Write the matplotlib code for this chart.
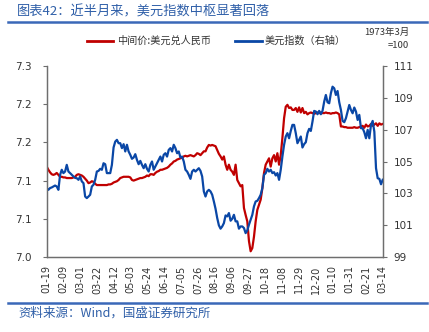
import matplotlib
matplotlib.use("Agg")
import matplotlib.pyplot as plt
import matplotlib.dates as mdates
import numpy as np
import pandas as pd

plt.rcParams['font.family'] = ['Noto Sans CJK SC', 'DejaVu Sans']

# ---------------- data ----------------
start_date = "2024-01-19"
end_date = "2025-03-14"
tick_dates = pd.date_range(start_date, periods=21, freq="21D")

cny_mid = [
    7.142, 7.137, 7.133, 7.130, 7.129, 7.130, 7.132, 7.129, 7.126, 7.126,
    7.125, 7.125, 7.124, 7.124, 7.124, 7.124, 7.125, 7.126, 7.129, 7.130,
    7.129, 7.128, 7.126, 7.123, 7.120, 7.116, 7.117, 7.119, 7.118, 7.115,
    7.113, 7.113, 7.113, 7.113, 7.113, 7.113, 7.113, 7.114, 7.114, 7.115,
    7.117, 7.118, 7.119, 7.121, 7.124, 7.125, 7.126, 7.126, 7.126, 7.126,
    7.125, 7.121, 7.120, 7.121, 7.122, 7.123, 7.124, 7.124, 7.125, 7.126,
    7.128, 7.127, 7.130, 7.130, 7.129, 7.132, 7.134, 7.135, 7.137, 7.137,
    7.138, 7.139, 7.140, 7.142, 7.145, 7.147, 7.150, 7.151, 7.153, 7.154,
    7.155, 7.156, 7.158, 7.159, 7.158, 7.159, 7.160, 7.159, 7.158, 7.160,
    7.163, 7.162, 7.160, 7.163, 7.166, 7.166, 7.172, 7.176, 7.175, 7.176,
    7.175, 7.174, 7.168, 7.162, 7.158, 7.153, 7.158, 7.145, 7.137, 7.145,
    7.137, 7.134, 7.129, 7.145, 7.121, 7.116, 7.111, 7.113, 7.077, 7.066,
    7.056, 7.025, 7.009, 7.014, 7.032, 7.056, 7.074, 7.082, 7.090, 7.108,
    7.132, 7.145, 7.150, 7.155, 7.142, 7.155, 7.160, 7.150, 7.163, 7.145,
    7.160, 7.187, 7.218, 7.236, 7.239, 7.234, 7.235, 7.231, 7.231, 7.234,
    7.228, 7.235, 7.227, 7.234, 7.226, 7.228, 7.224, 7.226, 7.227, 7.226,
    7.225, 7.226, 7.227, 7.226, 7.227, 7.226, 7.226, 7.227, 7.226, 7.226,
    7.225, 7.226, 7.226, 7.227, 7.226, 7.224, 7.205, 7.205, 7.204, 7.204,
    7.203, 7.203, 7.203, 7.203, 7.204, 7.203, 7.203, 7.204, 7.205, 7.206,
    7.203, 7.208, 7.205, 7.206, 7.209, 7.206, 7.208, 7.210, 7.206, 7.210,
    7.208, 7.209,
]

usd_index = [
    103.33, 103.22, 103.33, 103.37, 103.43, 103.49, 103.43, 103.22, 104.16, 104.48,
    104.27, 104.37, 104.79, 104.37, 104.27, 104.16, 104.06, 103.97, 103.95, 103.85,
    104.06, 103.75, 103.64, 102.80, 102.70, 102.80, 102.91, 103.43, 103.54, 103.85,
    104.37, 104.41, 104.54, 104.48, 104.89, 104.83, 104.27, 104.27, 104.27, 104.79,
    105.88, 106.25, 106.36, 106.15, 106.15, 105.84, 106.09, 105.63, 106.05, 105.63,
    105.42, 105.17, 105.25, 105.46, 105.10, 104.83, 105.04, 104.79, 104.58, 104.83,
    104.54, 104.37, 104.79, 105.00, 104.48, 104.69, 104.89, 105.10, 105.31, 105.00,
    105.42, 105.52, 105.31, 105.73, 105.84, 105.63, 106.05, 105.84, 105.52, 105.63,
    105.25, 105.31, 105.00, 104.48, 104.37, 104.16, 103.91, 104.37, 104.48, 104.37,
    104.48, 104.58, 104.41, 104.06, 103.12, 102.80, 103.12, 103.22, 103.12, 102.91,
    102.49, 102.03, 101.45, 100.99, 100.78, 100.92, 101.13, 101.61, 101.55, 101.76,
    101.28, 101.40, 101.65, 101.24, 101.24, 100.78, 100.92, 100.92, 100.82, 100.50,
    100.67, 101.03, 101.34, 101.65, 102.18, 102.49, 102.53, 102.70, 102.91, 103.33,
    104.16, 104.27, 104.54, 104.37, 104.48, 104.27, 104.33, 104.12, 104.27, 103.85,
    104.48, 105.31, 106.05, 106.57, 106.78, 106.46, 106.92, 107.30, 107.30, 106.78,
    106.15, 106.36, 106.57, 105.88, 106.09, 106.21, 106.78, 107.05, 106.92, 107.51,
    108.18, 108.14, 107.97, 108.18, 107.97, 108.18, 108.76, 109.18, 108.72, 108.66,
    109.29, 109.70, 109.60, 109.18, 109.43, 108.72, 108.24, 107.55, 107.47, 107.72,
    108.14, 108.55, 108.24, 108.03, 108.39, 108.14, 107.61, 107.93, 107.09, 107.09,
    106.84, 106.46, 106.99, 106.46, 107.30, 107.55, 106.87, 104.58, 103.95, 103.91,
    103.57, 103.85,
]

left_ticks = [7.0, 7.06, 7.12, 7.18, 7.24, 7.30]
right_ticks = [99, 101, 103, 105, 107, 109, 111]

dates = pd.date_range(start_date, end_date, periods=len(cny_mid))

# ---------------- figure ----------------
W, H = 429, 332
fig = plt.figure(figsize=(W / 100, H / 100), dpi=100)
fig.patch.set_facecolor("white")

def fx(px):
    return px / W

def fy(py):
    return 1 - py / H

RED = "#C00000"
BLUE = "#0A47A6"
TITLE_BLUE = "#2F5FA8"
SPINE = "#6e6e6e"
TXT = "#333333"

ax = fig.add_axes([fx(46.7), fy(257), fx(382.7) - fx(46.7), fy(66) - fy(257)])
ax2 = ax.twinx()

ax.plot(dates, cny_mid, color=RED, lw=1.6, solid_joinstyle="round")
ax2.plot(dates, usd_index, color=BLUE, lw=1.6, solid_joinstyle="round")

ax.set_xlim(pd.Timestamp(start_date), pd.Timestamp(end_date))
ax.set_ylim(7.0, 7.3)
ax2.set_ylim(99, 111)
ax.set_yticks(left_ticks)
ax.set_yticklabels([f"{v:.1f}" for v in left_ticks])
ax2.set_yticks(right_ticks)
ax2.set_yticklabels([str(v) for v in right_ticks])

ax.set_xticks(tick_dates)
ax.xaxis.set_major_formatter(mdates.DateFormatter("%m-%d"))

for a in (ax, ax2):
    for s in a.spines.values():
        s.set_color(SPINE)
        s.set_linewidth(0.9)
    a.spines["top"].set_visible(False)

ax.tick_params(axis="y", direction="out", length=3, width=0.8, color=SPINE,
               labelsize=7.5, labelcolor=TXT, pad=8)
ax2.tick_params(axis="y", direction="out", length=3, width=0.8, color=SPINE,
                labelsize=7.5, labelcolor=TXT, pad=5)
ax.tick_params(axis="x", direction="out", length=0, labelsize=7,
               labelcolor=TXT, pad=6)
for lab in ax.get_xticklabels():
    lab.set_rotation(90)
    lab.set_fontfamily("DejaVu Sans")
for lab in ax.get_yticklabels() + ax2.get_yticklabels():
    lab.set_fontfamily("DejaVu Sans")

# ---------------- title & rules ----------------
fig.text(fx(17), fy(12), "图表42：近半月来，美元指数中枢显著回落", color=TITLE_BLUE,
         fontsize=9.5, ha="left", va="center", style="italic")
fig.add_artist(plt.Line2D([fx(8), fx(427)], [fy(22), fy(22)], color="#3A68B8", lw=1.8))
fig.add_artist(plt.Line2D([fx(8), fx(427)], [fy(303), fy(303)], color="#3A68B8", lw=1.8))
fig.text(fx(18), fy(313), "资料来源：Wind，国盛证券研究所", color=TITLE_BLUE,
         fontsize=9, ha="left", va="center", style="italic")

# ---------------- legend ----------------
fig.add_artist(plt.Line2D([fx(87), fx(113)], [fy(41), fy(41)], color=RED, lw=2))
fig.text(fx(117), fy(41), "中间价:美元兑人民币", fontsize=7.3, color=TXT,
         ha="left", va="center")
fig.add_artist(plt.Line2D([fx(235), fx(262)], [fy(41), fy(41)], color=BLUE, lw=2))
fig.text(fx(265), fy(41), "美元指数（右轴）", fontsize=7.3, color=TXT,
         ha="left", va="center")
fig.text(fx(409), fy(32), "1973年3月", fontsize=6.8, color=TXT, ha="right", va="center")
fig.text(fx(409), fy(46), "=100", fontsize=6.8, color=TXT, ha="right", va="center")

fig.savefig("out.png", dpi=100, facecolor="white")
